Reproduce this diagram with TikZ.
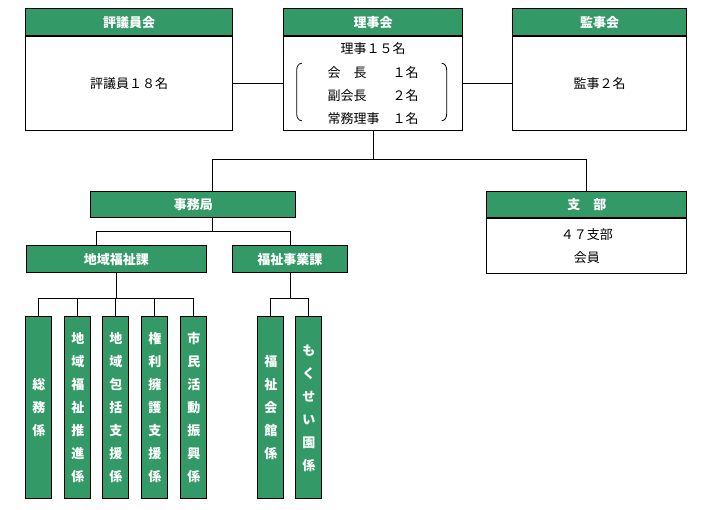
\documentclass[tikz,border=0pt]{standalone}
\usepackage{fontspec}
\setmainfont{Noto Sans CJK JP}
\definecolor{kgreen}{HTML}{339966}

\begin{document}
\begin{tikzpicture}[x=1pt,y=-1pt,
    midashi/.style={draw,line width=1.1pt,fill=kgreen,text=white,
      font=\bfseries\fontsize{13}{15}\selectfont,inner sep=0pt,anchor=north west},
    naiyo/.style={draw,line width=1.1pt,fill=white,align=center,
      font=\fontsize{13}{23.3}\selectfont,inner sep=0pt,anchor=north west},
    tate/.style={draw,line width=1.1pt,fill=kgreen,text=white,align=center,
      font=\bfseries\fontsize{13}{23}\selectfont,inner sep=0pt,anchor=north west,
      minimum width=26pt,minimum height=182pt},
    sen/.style={line width=0.8pt}]

    \useasboundingbox (0,0) rectangle (708,510);

    % top row
    \node[midashi,minimum width=206.4pt,minimum height=26.7pt] (hyogi_h) at (25.3,8.3) {評議員会};
    \node[naiyo,minimum width=206.4pt,minimum height=94.3pt] (hyogi) at (hyogi_h.south west) {評議員１８名};

    \node[midashi,minimum width=178.4pt,minimum height=26.7pt] (riji_h) at (283.3,8.3) {理事会};
    \node[naiyo,minimum width=178.4pt,minimum height=94.3pt] (riji) at (riji_h.south west)
      {理事１５名\\会　長　　１名\\副会長　　２名\\常務理事　１名};

    \node[midashi,minimum width=174.6pt,minimum height=26.7pt] (kanji_h) at (511.7,8.3) {監事会};
    \node[naiyo,minimum width=174.6pt,minimum height=94.3pt] (kanji) at (kanji_h.south west) {監事２名};

    % brackets
    \draw[sen] (301.7,63.3) to[out=180,in=90] (296.7,70) -- (296.7,114) to[out=-90,in=180] (301.7,120.7);
    \draw[sen] (441.7,63.3) to[out=0,in=90] (446.7,70) -- (446.7,114) to[out=-90,in=0] (441.7,120.7);

    % second row
    \node[midashi,minimum width=205.1pt,minimum height=26pt] (jimu) at (90.2,190.7) {事務局};
    \node[midashi,minimum width=200pt,minimum height=26.6pt] (shibu_h) at (486.3,190.7) {支　部};
    \node[naiyo,minimum width=200pt,minimum height=54.7pt] (shibu) at (shibu_h.south west) {４７支部\\会員};

    % third row
    \node[midashi,minimum width=180.3pt,minimum height=27pt] (chiiki) at (25.7,245.3) {地域福祉課};
    \node[midashi,minimum width=115.3pt,minimum height=27pt] (jigyo) at (231.7,245.3) {福祉事業課};

    % kakari
    \node[tate] (somu) at (25.3,316.3) {総\\務\\係};
    \node[tate] (suishin) at (64.3,316.3) {地\\域\\福\\祉\\推\\進\\係};
    \node[tate] (hokatsu) at (102.3,316.3) {地\\域\\包\\括\\支\\援\\係};
    \node[tate] (kenri) at (141.3,316.3) {権\\利\\擁\\護\\支\\援\\係};
    \node[tate] (shimin) at (180.3,316.3) {市\\民\\活\\動\\振\\興\\係};
    \node[tate] (kaikan) at (257.3,316.3) {福\\祉\\会\\館\\係};
    \node[tate] (mokusei) at (295.3,316.3) {も\\く\\せ\\い\\園\\係};

    % lines
    \draw[sen] (hyogi.east) -- (riji.west);
    \draw[sen] (riji.east) -- (kanji.west);

    \coordinate (jimu_top) at (212.3,190.7);
    \coordinate (jimu_bot) at (212.3,216.7);
    \coordinate (chiiki_top) at (96.5,245.3);

    \draw[sen] (riji.south) -- ++(0,27.7) coordinate (bunki1);
    \draw[sen] (jimu_top) |- (bunki1) -| (shibu_h.north);

    \draw[sen] (jimu_bot) -- ++(0,15) coordinate (bunki2);
    \draw[sen] (chiiki_top) |- (bunki2) -| (jigyo.north);

    \draw[sen] (chiiki.south) -- ++(0,25) coordinate (bunki3);
    \draw[sen] (somu.north) |- (shimin.north |- bunki3) -- (shimin.north);
    \foreach \k in {suishin,hokatsu,kenri}
      \draw[sen] (\k.north) -- (\k.north |- bunki3);

    \draw[sen] (jigyo.south) -- ++(0,25) coordinate (bunki4);
    \draw[sen] (kaikan.north) |- (mokusei.north |- bunki4) -- (mokusei.north);

\end{tikzpicture}
\end{document}
